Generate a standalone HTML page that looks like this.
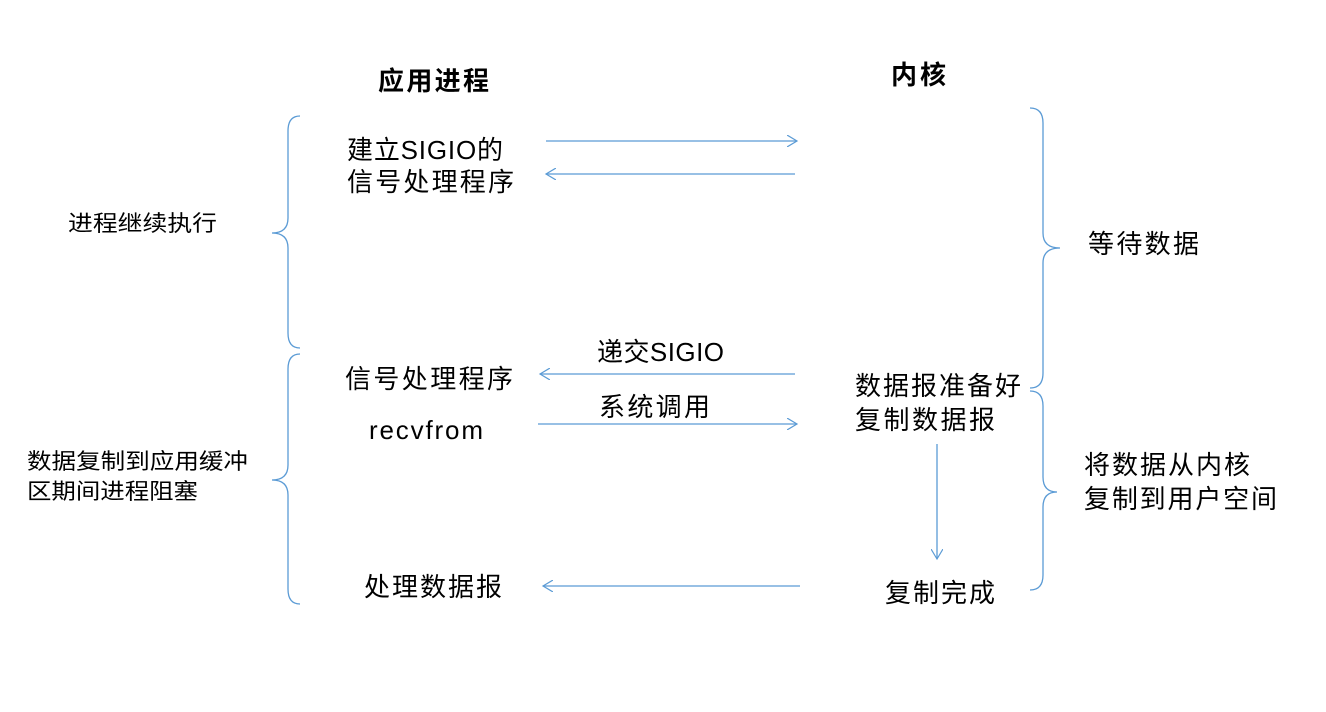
<!DOCTYPE html>
<html><head><meta charset="utf-8"><style>
body{margin:0;background:#fff;}
svg text{font-family:"Liberation Sans","Noto Sans CJK SC",sans-serif;fill:#000;}
</style></head><body>
<svg width="1326" height="707" viewBox="0 0 1326 707" xmlns="http://www.w3.org/2000/svg">
<defs><marker id="a" markerWidth="12" markerHeight="12" refX="10" refY="6" orient="auto" markerUnits="userSpaceOnUse"><path d="M0,0 L10,6 L0,12" fill="none" stroke="#5b9bd5" stroke-width="1.2"/></marker></defs>
<g fill="none" stroke="#5b9bd5" stroke-width="1.3">
<path d="M300,116 Q288,116 288,131 L288,218 Q288,233 272,233 Q288,233 288,248 L288,333 Q288,348 300,348"/>
<path d="M300,354 Q288,354 288,369 L288,465 Q288,480 272,480 Q288,480 288,495 L288,589 Q288,604 300,604"/>
<path d="M1030,108 Q1043,108 1043,123 L1043,233 Q1043,248 1060,248 Q1043,248 1043,263 L1043,373 Q1043,388 1030,388"/>
<path d="M1030,391 Q1043,391 1043,406 L1043,477 Q1043,492 1057,492 Q1043,492 1043,507 L1043,575 Q1043,590 1030,590"/>
<line x1="546" y1="141" x2="797" y2="141" marker-end="url(#a)"/>
<line x1="795" y1="174" x2="546" y2="174" marker-end="url(#a)"/>
<line x1="795" y1="374" x2="540" y2="374" marker-end="url(#a)"/>
<line x1="538" y1="424" x2="797" y2="424" marker-end="url(#a)"/>
<line x1="800" y1="586" x2="543" y2="586" marker-end="url(#a)"/>
<line x1="937" y1="444" x2="937" y2="559" marker-end="url(#a)"/>
</g>
<g font-size="26" lengthAdjust="spacingAndGlyphs">
<text x="378" y="90" font-weight="bold" textLength="111">应用进程</text>
<text x="891" y="84" font-weight="bold" textLength="55">内核</text>
<text x="347" y="159" textLength="156">建立SIGIO的</text>
<text x="347" y="191" textLength="167">信号处理程序</text>
<text x="1088" y="253" textLength="111">等待数据</text>
<text x="597" y="361" textLength="127">递交SIGIO</text>
<text x="345" y="388" textLength="168">信号处理程序</text>
<text x="599" y="416" textLength="111">系统调用</text>
<text x="369" y="439" textLength="114">recvfrom</text>
<text x="855" y="395" textLength="166">数据报准备好</text>
<text x="855" y="429" textLength="140">复制数据报</text>
<text x="1084" y="474" textLength="166">将数据从内核</text>
<text x="1084" y="508" textLength="193">复制到用户空间</text>
<text x="364" y="596" textLength="138">处理数据报</text>
<text x="885" y="602" textLength="110">复制完成</text>
</g>
<g font-size="22">
<text x="68" y="231" textLength="149" lengthAdjust="spacingAndGlyphs">进程继续执行</text>
<text x="27" y="469" textLength="221" lengthAdjust="spacingAndGlyphs">数据复制到应用缓冲</text>
<text x="27" y="499" textLength="171" lengthAdjust="spacingAndGlyphs">区期间进程阻塞</text>
</g>
</svg>
</body></html>
